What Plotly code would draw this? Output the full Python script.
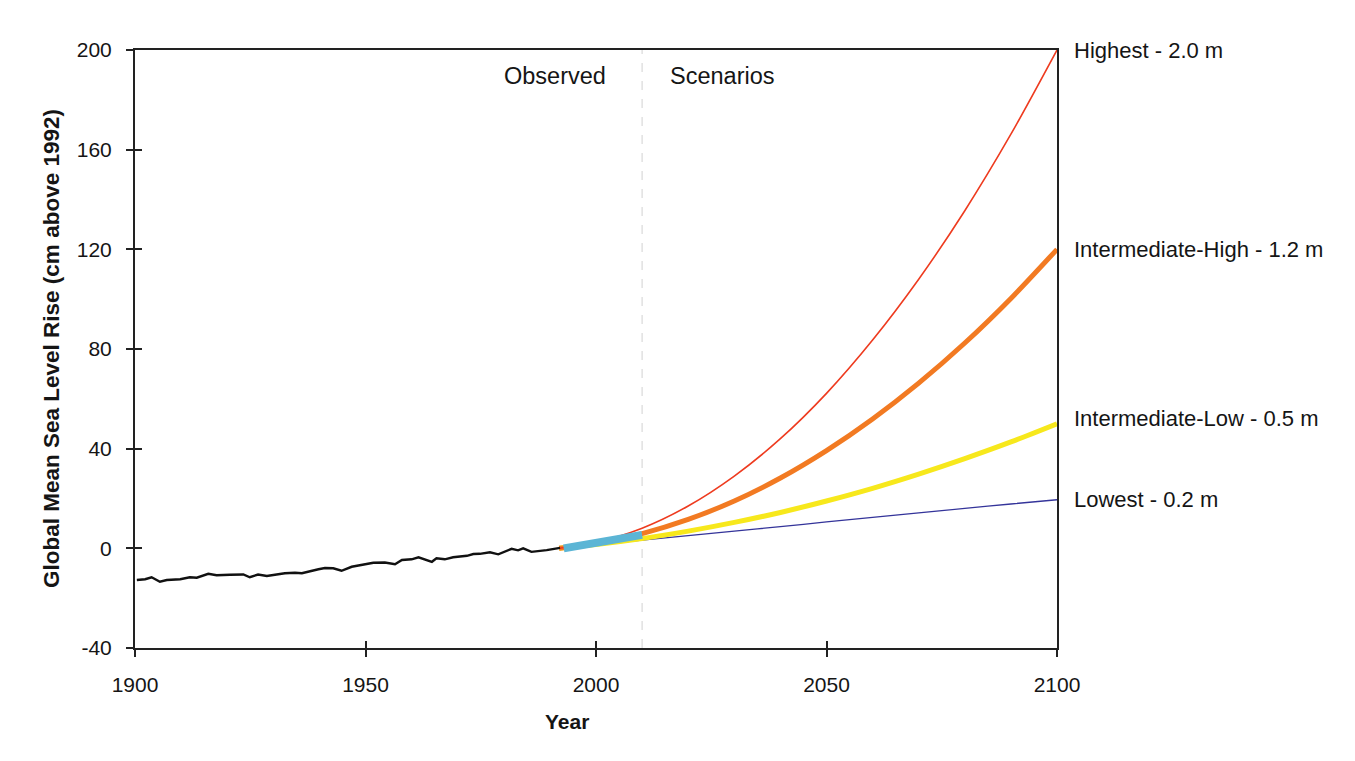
import plotly.graph_objects as go

# ---- data ----
obs_years = [1900.4, 1902.2, 1903.6, 1905.4, 1906.9, 1909.8, 1911.9, 1913.4, 1915.9, 1917.7,
             1920.6, 1923.5, 1924.9, 1926.7, 1928.6, 1930.7, 1932.5, 1934.7, 1936.2, 1939.8,
             1941.2, 1943.0, 1944.8, 1947.0, 1949.9, 1951.7, 1954.2, 1956.4, 1957.9, 1960.0,
             1961.5, 1964.4, 1965.4, 1967.2, 1969.0, 1972.0, 1973.4, 1974.8, 1977.0, 1978.8,
             1981.7, 1983.1, 1984.2, 1986.0, 1989.3, 1992.2]
obs_values = [-12.7, -12.4, -11.6, -13.4, -12.7, -12.4, -11.6, -11.8, -10.2, -10.8,
              -10.6, -10.5, -11.6, -10.5, -11.1, -10.5, -10.0, -9.8, -10.0, -8.4,
              -7.9, -8.0, -9.0, -7.4, -6.4, -5.8, -5.7, -6.4, -4.7, -4.4,
              -3.6, -5.4, -4.0, -4.4, -3.6, -3.0, -2.3, -2.2, -1.6, -2.4,
              -0.2, -0.8, 0.0, -1.4, -0.7, 0.2]

sat_years = [1993, 1995, 1997, 1999, 2001, 2003, 2005, 2007, 2009, 2010]
sat_values = [0.0, 0.6, 1.3, 1.8, 2.5, 3.1, 3.6, 4.3, 5.0, 5.4]

scen_years = [1992, 2000, 2010, 2020, 2030, 2040, 2050, 2060, 2070, 2080, 2090, 2100]
highest = [0, 2.4, 8.1, 17.0, 29.0, 44.0, 62.2, 83.6, 108.0, 135.5, 166.2, 200.0]
int_high = [0, 1.9, 5.9, 11.6, 19.0, 28.2, 39.2, 51.9, 66.3, 82.4, 100.3, 120.0]
int_low = [0, 1.5, 3.9, 6.9, 10.4, 14.4, 19.0, 24.1, 29.8, 36.0, 42.7, 50.0]
lowest = [0, 1.5, 3.3, 5.1, 6.9, 8.7, 10.6, 12.4, 14.2, 16.0, 17.8, 19.5]

scen_labels = ["Highest - 2.0 m", "Intermediate-High - 1.2 m",
               "Intermediate-Low - 0.5 m", "Lowest - 0.2 m"]
scen_label_y = [200, 120, 52, 19.5]

x_ticks = [1900, 1950, 2000, 2050, 2100]
x_ticktext = ["1900", "1950", "2000", "2050", "2100"]
y_ticks = [-40, 0, 40, 80, 120, 160, 200]
y_ticktext = ["-40", "0", "40", "80", "120", "160", "200"]

FONT = "Liberation Sans, Arial, sans-serif"
TXT = "#151515"

fig = go.Figure()

scen = [
    (lowest, "#34349a", 1.3),
    (int_low, "#f7e81c", 5),
    (int_high, "#f27a22", 5),
    (highest, "#ee3b1f", 1.6),
]
for vals, col, w in scen:
    fig.add_trace(go.Scatter(x=scen_years, y=vals, mode="lines",
                             line=dict(color=col, width=w, shape="spline", smoothing=0.8),
                             showlegend=False, hoverinfo="skip"))

fig.add_trace(go.Scatter(x=obs_years, y=obs_values, mode="lines",
                         line=dict(color="#111111", width=2.4),
                         showlegend=False, hoverinfo="skip"))
fig.add_trace(go.Scatter(x=sat_years, y=sat_values, mode="lines",
                         line=dict(color="#5bb5d5", width=8),
                         showlegend=False, hoverinfo="skip"))

# invisible trace on overlay axes for the inner half of crossing ticks
fig.add_trace(go.Scatter(x=[1900], y=[0], mode="markers", marker=dict(opacity=0),
                         xaxis="x2", yaxis="y2", showlegend=False, hoverinfo="skip"))

# vertical dashed divider at 2010
fig.add_shape(type="line", x0=2010, x1=2010, y0=-40, y1=200, xref="x", yref="y",
              line=dict(color="#dcdcdc", width=1.3, dash="dash"), layer="below")

fig.add_annotation(x=2002.6, y=189.6, xref="x", yref="y", text="Observed", showarrow=False,
                   xanchor="right", font=dict(size=23.5, color=TXT, family=FONT))
fig.add_annotation(x=2015.6, y=189.6, xref="x", yref="y", text="Scenarios", showarrow=False,
                   xanchor="left", font=dict(size=23.5, color=TXT, family=FONT))

for lab, yv in zip(scen_labels, scen_label_y):
    fig.add_annotation(x=1, xref="paper", y=yv, yref="y", text=lab, showarrow=False,
                       xanchor="left", xshift=15, font=dict(size=22, color=TXT, family=FONT))

fig.add_annotation(x=0.4685, xref="paper", y=-0.1237, yref="paper", yanchor="middle",
                   text="<b>Year</b>", showarrow=False,
                   font=dict(size=21, color=TXT, family=FONT))
fig.add_annotation(x=-0.0911, xref="paper", y=0.5, yref="paper", xanchor="center",
                   yanchor="middle", textangle=-90,
                   text="<b>Global Mean Sea Level Rise (cm above 1992)</b>", showarrow=False,
                   font=dict(size=22.5, color=TXT, family=FONT))

fig.update_layout(
    width=1339, height=745,
    margin=dict(l=127, r=290, t=42, b=105),
    paper_bgcolor="white", plot_bgcolor="white",
    font=dict(family=FONT, size=20, color=TXT),
    xaxis=dict(range=[1900, 2100], tickvals=x_ticks, ticktext=x_ticktext,
               showgrid=False, zeroline=False,
               showline=True, linecolor="#222", linewidth=2, mirror=True,
               ticks="outside", ticklen=7, tickwidth=1.5, tickcolor="#222",
               ticklabelstandoff=10,
               tickfont=dict(size=21, family=FONT, color=TXT)),
    yaxis=dict(range=[-40, 200], tickvals=y_ticks, ticktext=y_ticktext,
               showgrid=False, zeroline=False,
               showline=True, linecolor="#222", linewidth=2, mirror=True,
               ticks="outside", ticklen=7, tickwidth=1.5, tickcolor="#222",
               ticklabelstandoff=10,
               tickfont=dict(size=21, family=FONT, color=TXT)),
    xaxis2=dict(range=[1900, 2100], tickvals=x_ticks, overlaying="x", showgrid=False,
                zeroline=False, showticklabels=False, ticks="inside", ticklen=7,
                tickwidth=1.5, tickcolor="#222", anchor="y2", side="bottom"),
    yaxis2=dict(range=[-40, 200], tickvals=y_ticks, overlaying="y", showgrid=False,
                zeroline=False, showticklabels=False, ticks="inside", ticklen=7,
                tickwidth=1.5, tickcolor="#222", anchor="x2", side="left"),
)

fig.write_html("out.html")
